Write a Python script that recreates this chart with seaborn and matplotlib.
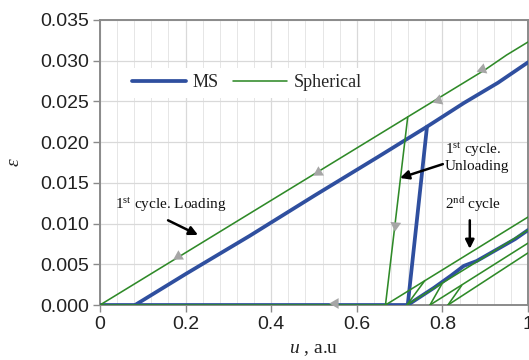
import numpy as np
import pandas as pd
import matplotlib
matplotlib.use("Agg")
import matplotlib.pyplot as plt
from matplotlib.lines import Line2D
import seaborn as sns

# ---------------- data ----------------
# MS (blue) path segments
ms_zero_u = [0.0, 0.72]
ms_zero_e = [0.0, 0.0]
ms_load_u = [0.082, 0.2, 0.35, 0.5, 0.65, 0.764, 0.85, 0.93, 1.0]
ms_load_e = [0.0, 0.0038, 0.0085, 0.0134, 0.0182, 0.0219, 0.0248, 0.0273, 0.0298]
ms_unload_u = [0.764, 0.719]
ms_unload_e = [0.0219, 0.0]
ms_reload_u = [0.719, 0.78, 0.82, 0.85, 0.88, 0.93, 0.97, 1.0]
ms_reload_e = [0.0, 0.0021, 0.0036, 0.0048, 0.0054, 0.0069, 0.0081, 0.0092]

# Spherical (green) path segments
sp_load_u = [0.0, 0.719, 0.9, 0.95, 1.0]
sp_load_e = [0.0, 0.0231, 0.0289, 0.0307, 0.0323]
sp_unload_u = [0.719, 0.667]
sp_unload_e = [0.0231, 0.0]
sp_zero_u = [0.667, 0.0]
sp_zero_e = [0.0, 0.0]
sp_relA_u = [0.667, 1.0]
sp_relA_e = [0.0, 0.0108]
sp_relB_u = [0.717, 1.0]
sp_relB_e = [0.0, 0.0092]
sp_relC_u = [0.771, 1.0]
sp_relC_e = [0.0, 0.0076]
sp_relD_u = [0.813, 1.0]
sp_relD_e = [0.0, 0.0064]
sp_un1_u = [0.759, 0.717]
sp_un1_e = [0.0030, 0.0]
sp_un2_u = [0.80, 0.771]
sp_un2_e = [0.0027, 0.0]
sp_un3_u = [0.845, 0.813]
sp_un3_e = [0.0024, 0.0]

# direction marks (grey triangles): u, eps, pointing angle (deg)
mark_u = [0.182, 0.51, 0.79, 0.893, 0.689, 0.55]
mark_e = [0.0060, 0.0163, 0.0252, 0.0290, 0.0098, 0.0003]
mark_ang = [211, 211, 200, 200, 265, 180]

def build(segs, name):
    rows = []
    for k, (us, es) in enumerate(segs):
        for i, (u, e) in enumerate(zip(us, es)):
            rows.append(dict(u=u, eps=e, seg=f"{name}{k}", order=i))
    return pd.DataFrame(rows)

df_ms = build([(ms_zero_u, ms_zero_e), (ms_load_u, ms_load_e),
               (ms_unload_u, ms_unload_e), (ms_reload_u, ms_reload_e)], "ms")
df_sp = build([(sp_load_u, sp_load_e), (sp_unload_u, sp_unload_e),
               (sp_zero_u, sp_zero_e), (sp_relA_u, sp_relA_e),
               (sp_relB_u, sp_relB_e), (sp_relC_u, sp_relC_e),
               (sp_relD_u, sp_relD_e), (sp_un1_u, sp_un1_e),
               (sp_un2_u, sp_un2_e), (sp_un3_u, sp_un3_e)], "sp")

# ---------------- style ----------------
sns.set_theme(style="whitegrid")
plt.rcParams["font.family"] = ["Liberation Sans", "DejaVu Sans"]
plt.rcParams["mathtext.fontset"] = "custom"
plt.rcParams["mathtext.rm"] = "Liberation Serif"
plt.rcParams["mathtext.it"] = "Liberation Serif:italic"

BLUE = "#2f4f9f"
GREEN = "#2f8a28"
GREY_SPINE = "#8a8a8a"
GRID = "#d9d9d9"

fig = plt.figure(figsize=(5.29, 3.60), dpi=100)
ax = fig.add_axes([100/529, 1 - 305/360, 428/529, 285/360])

sns.lineplot(data=df_ms, x="u", y="eps", units="seg", estimator=None, sort=False,
             color=BLUE, lw=2.7, ax=ax, legend=False, zorder=3)
sns.lineplot(data=df_sp, x="u", y="eps", units="seg", estimator=None, sort=False,
             color=GREEN, lw=1.15, ax=ax, legend=False, zorder=4)

for u, e, a in zip(mark_u, mark_e, mark_ang):
    ax.plot([u], [e], marker=(3, 0, a - 90), markersize=9, color="#a6a6a6",
            markeredgewidth=0, linestyle="none", zorder=5, clip_on=False)

ax.set_xlim(0, 1)
ax.set_ylim(0, 0.035)
ax.set_xticks([0, 0.2, 0.4, 0.6, 0.8, 1.0])
ax.set_xticklabels(["0", "0.2", "0.4", "0.6", "0.8", "1"])
ax.set_xticks(np.arange(0, 1.0001, 0.04), minor=True)
ax.set_yticks(np.arange(0, 0.0351, 0.005))
ax.set_yticklabels([f"{v:.3f}" for v in np.arange(0, 0.0351, 0.005)])

ax.grid(True, which="major", color=GRID, lw=0.9)
ax.grid(True, which="minor", axis="x", color="#e6e6e6", lw=0.7)
ax.set_axisbelow(True)
for s in ax.spines.values():
    s.set_color(GREY_SPINE)
    s.set_linewidth(1.4)
    s.set_visible(True)
ax.tick_params(axis="both", which="major", length=5, width=1, color=GREY_SPINE,
               labelsize=14, labelcolor="#222222", direction="out", pad=3)
ax.tick_params(axis="x", which="minor", length=0)
ax.tick_params(left=True, bottom=True)

ax.set_xlabel(r"$u$ , a.u", fontsize=14, family="Liberation Serif", labelpad=6, color="#222222")
ax.set_ylabel(r"$\varepsilon$", fontsize=14, labelpad=12, color="#222222")

# legend
handles = [Line2D([], [], color=BLUE, lw=2.7), Line2D([], [], color=GREEN, lw=1.15)]
leg = ax.legend(handles, ["MS", "Spherical"], ncol=2, loc="center left",
                bbox_to_anchor=(0.06, 0.779), frameon=True, facecolor="white",
                edgecolor="none", framealpha=1, fancybox=False,
                prop={"family": "Liberation Serif", "size": 13},
                handlelength=3.0, handletextpad=0.35, columnspacing=0.8,
                borderpad=0.35, borderaxespad=0)
leg.set_zorder(6)

# annotations
afont = dict(family="Liberation Serif", size=11, color="#111111")
arrow = dict(arrowstyle="-|>", color="black", lw=1.8, mutation_scale=13,
             shrinkA=0, shrinkB=0)
ax.text(0.035, 0.0123, r"1$^{\rm st}$ cycle. Loading", ha="left", va="center",
        zorder=7, **afont)
ax.annotate("", xy=(0.229, 0.0086), xytext=(0.159, 0.0104), arrowprops=arrow, zorder=7)

ax.text(0.805, 0.0182, "1$^{\\rm st}$ cycle.\nUnloading", ha="left", va="center",
        linespacing=1.15, zorder=7, **afont)
ax.annotate("", xy=(0.701, 0.0156), xytext=(0.801, 0.0173), arrowprops=arrow, zorder=7)

ax.text(0.806, 0.0123, "2$^{\\rm nd}$ cycle", ha="left", va="center", zorder=7, **afont)
ax.annotate("", xy=(0.864, 0.0069), xytext=(0.864, 0.0104), arrowprops=arrow, zorder=7)

fig.savefig("out.png", dpi=100)
